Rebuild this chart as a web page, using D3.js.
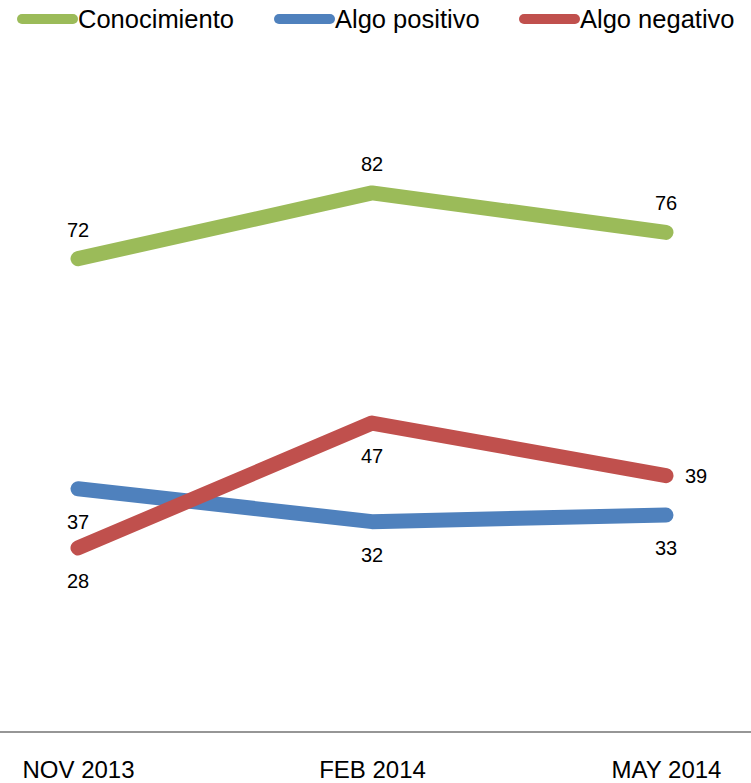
<!DOCTYPE html>
<html>
<head>
<meta charset="utf-8">
<script src="https://cdn.jsdelivr.net/npm/d3@7"></script>
<style>
  body { margin: 0; background: #fff; }
  svg { display: block; font-family: "Liberation Sans", Arial, sans-serif; }
</style>
</head>
<body>
<div id="chart"></div>
<script>
// chart values
const categories = ['NOV 2013', 'FEB 2014', 'MAY 2014'];
const seriesNames = ['Conocimiento', 'Algo positivo', 'Algo negativo'];
const conocimiento = [72, 82, 76];
const algoPositivo = [37, 32, 33];
const algoNegativo = [28, 47, 39];

const colors = ['#9bbb59', '#4f81bd', '#c0504d'];
const seriesValues = [conocimiento, algoPositivo, algoNegativo];

const width = 751, height = 783;

const svg = d3.select('#chart').append('svg')
    .attr('width', width)
    .attr('height', height);

const x = d3.scalePoint()
    .domain(categories)
    .range([78, 666]);

const y = d3.scaleLinear()
    .domain([0, 100])
    .range([732, 74.6]);

// category axis baseline across the whole width
svg.append('line')
    .attr('x1', 0).attr('x2', width)
    .attr('y1', y(0)).attr('y2', y(0))
    .attr('stroke', '#969696')
    .attr('stroke-width', 2);

const xAxis = svg.append('g')
    .attr('transform', `translate(0,${y(0)})`)
    .call(d3.axisBottom(x).tickSize(0).tickPadding(0));
xAxis.select('.domain').remove();
xAxis.selectAll('text')
    .attr('y', 46)
    .attr('dy', 0)
    .attr('font-size', 24)
    .attr('font-family', '"Liberation Sans", Arial, sans-serif')
    .attr('fill', '#000');

const line = d3.line()
    .x((d, i) => x(categories[i]))
    .y(d => y(d));

seriesValues.forEach((vals, s) => {
  svg.append('path')
      .datum(vals)
      .attr('d', line)
      .attr('fill', 'none')
      .attr('stroke', colors[s])
      .attr('stroke-width', 15)
      .attr('stroke-linecap', 'round')
      .attr('stroke-linejoin', 'round');
});

// data labels
seriesValues.forEach((vals, s) => {
  svg.append('g').selectAll('text')
    .data(vals)
    .join('text')
      .attr('x', (d, i) => {
        if (s === 2 && i === 2) return x(categories[i]) + 19;
        return x(categories[i]);
      })
      .attr('y', (d, i) => {
        if (s === 0) return y(d) - 22;
        if (s === 2 && i === 2) return y(d) + 7;
        return y(d) + 40;
      })
      .attr('text-anchor', (d, i) => (s === 2 && i === 2) ? 'start' : 'middle')
      .attr('font-size', 20)
      .attr('fill', '#000')
      .text(d => d);
});

// legend
const legendX = [17, 274, 519];
const legend = svg.append('g');
seriesNames.forEach((name, s) => {
  const g = legend.append('g').attr('transform', `translate(${legendX[s]},19)`);
  g.append('line')
      .attr('x1', 5).attr('x2', 56)
      .attr('y1', 0).attr('y2', 0)
      .attr('stroke', colors[s])
      .attr('stroke-width', 10)
      .attr('stroke-linecap', 'round');
  g.append('text')
      .attr('x', 61)
      .attr('y', 9)
      .attr('font-size', 25.5)
      .attr('fill', '#000')
      .text(name);
});
</script>
</body>
</html>
